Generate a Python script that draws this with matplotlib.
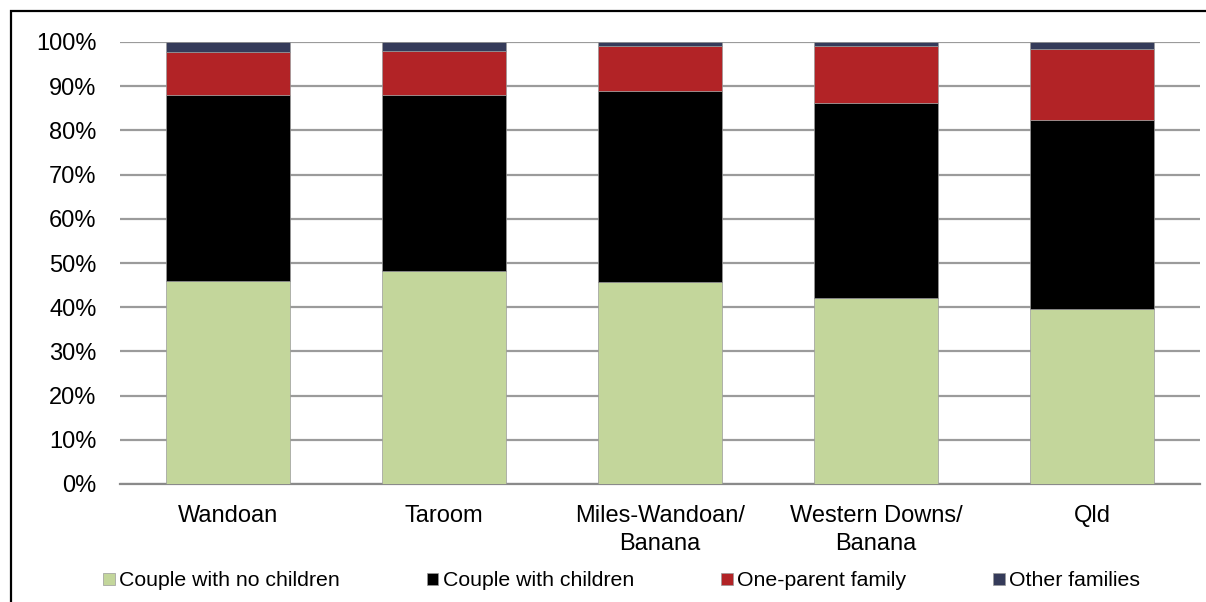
import matplotlib
matplotlib.use("Agg")
import matplotlib.pyplot as plt
from matplotlib.patches import Rectangle
from matplotlib.ticker import PercentFormatter
import numpy as np

plt.rcParams['font.family'] = ['Liberation Sans', 'DejaVu Sans']

categories = ["Wandoan", "Taroom", "Miles-Wandoan/\nBanana", "Western Downs/\nBanana", "Qld"]
series_names = ["Couple with no children", "Couple with children", "One-parent family", "Other families"]
couple_no_children = [45.9, 48.1, 45.7, 42.1, 39.6]
couple_with_children = [42.0, 40.0, 43.2, 44.2, 42.7]
one_parent = [9.9, 9.9, 10.2, 12.7, 16.2]
other_families = [2.2, 2.0, 0.9, 1.0, 1.5]
colors = ["#C3D69B", "#000000", "#B22326", "#353B5A"]
y_ticks = list(range(0, 101, 10))

W, H = 1206, 602
fig = plt.figure(figsize=(W / 100, H / 100), dpi=100)
ax = fig.add_axes([120 / W, 1 - 484 / H, 1080 / W, 442 / H])

x = np.arange(len(categories))
bottom = np.zeros(len(categories))
handles = []
for vals, name, col in zip([couple_no_children, couple_with_children, one_parent, other_families],
                           series_names, colors):
    b = ax.bar(x, vals, width=0.574, bottom=bottom, color=col, label=name,
               edgecolor="#9a9a9a", linewidth=0.5, zorder=3)
    handles.append(b)
    bottom += np.array(vals)

ax.set_xlim(-0.5, len(categories) - 0.5)
ax.set_ylim(0, 100)
ax.set_yticks(y_ticks)
ax.yaxis.set_major_formatter(PercentFormatter(decimals=0))
ax.yaxis.grid(True, color="#9b9b9b", linewidth=1.6, zorder=0)
ax.set_axisbelow(True)
for side in ["top", "right", "left"]:
    ax.spines[side].set_visible(False)
ax.spines["bottom"].set_color("#8a8a8a")
ax.spines["bottom"].set_linewidth(1.6)
ax.tick_params(axis="y", length=0, pad=17, labelsize=17)
ax.tick_params(axis="x", length=0, pad=15, labelsize=17)
ax.set_xticks(x)
ax.set_xticklabels(categories, linespacing=1.35)

# legend entries along the bottom
leg = fig.legend(handles=handles, labels=series_names, loc="center",
                 bbox_to_anchor=(0.5153, 1 - 581 / H), ncol=4, frameon=False,
                 fontsize=15.3, handlelength=0.55, handleheight=0.55,
                 handletextpad=0.2, columnspacing=4.1)

# outer frame (top and left edges)
fig.patches.append(Rectangle((10.5 / W, -0.1), 1.2, 1.1 - 10.5 / H,
                             transform=fig.transFigure, fill=False,
                             edgecolor="black", linewidth=1.6))

fig.savefig("out.png", dpi=100)
